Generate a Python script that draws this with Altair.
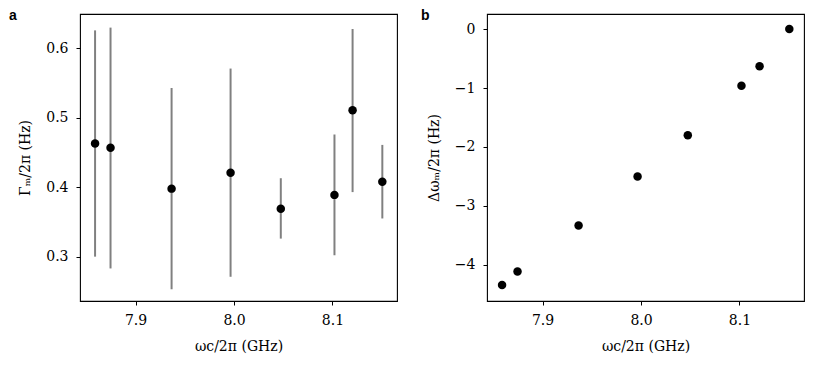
import altair as alt
import pandas as pd

# cavity frequency omega_c/2pi (GHz)
freq = [7.8589, 7.8746, 7.9366, 7.9965, 8.0475, 8.1020, 8.1204, 8.1506]
# panel a: mechanical linewidth Gamma_m/2pi (Hz) with error bar limits
gamma = [0.463, 0.457, 0.398, 0.421, 0.369, 0.389, 0.511, 0.408]
gamma_lo = [0.300, 0.283, 0.253, 0.271, 0.326, 0.302, 0.393, 0.355]
gamma_hi = [0.626, 0.630, 0.543, 0.571, 0.413, 0.476, 0.628, 0.461]
# panel b: frequency shift Delta omega_m/2pi (Hz)
shift = [-4.34, -4.11, -3.33, -2.50, -1.80, -0.96, -0.63, 0.0]

x_ticks = [7.9, 8.0, 8.1]
ya_ticks = [0.3, 0.4, 0.5, 0.6]
yb_ticks = [-4, -3, -2, -1, 0]
panel_labels = ["a", "b"]

df = pd.DataFrame({"freq": freq, "gamma": gamma, "lo": gamma_lo,
                   "hi": gamma_hi, "shift": shift})

X_DOMAIN = [7.8436, 8.1655]
W, H = 317, 287


def xenc():
    return alt.X("freq:Q",
                 scale=alt.Scale(domain=X_DOMAIN, nice=False, zero=False),
                 axis=alt.Axis(values=x_ticks, format=".1f",
                               title="ωc/2π (GHz)", titlePadding=12))


def panel_letter(txt, dx):
    return alt.Chart(pd.DataFrame({"label": [txt]})).mark_text(
        font="Liberation Sans", fontSize=14, fontWeight="bold",
        color="black", align="left", baseline="alphabetic",
    ).encode(text="label:N", x=alt.value(dx), y=alt.value(6))


base = alt.Chart(df)

ya_scale = alt.Scale(domain=[0.2361, 0.6496], nice=False, zero=False)
ya_axis = alt.Axis(values=ya_ticks, format=".1f", title="Γₘ/2π (Hz)",
                   titlePadding=13)
err = base.mark_rule(color="#808080", strokeWidth=2).encode(
    x=xenc(),
    y=alt.Y("lo:Q", scale=ya_scale, axis=ya_axis),
    y2="hi:Q",
)
pts_a = base.mark_circle(size=72, color="black", opacity=1).encode(
    x=xenc(),
    y=alt.Y("gamma:Q", scale=ya_scale, axis=ya_axis),
)
panel_a = alt.layer(err, pts_a, panel_letter(panel_labels[0], -71)).properties(
    width=W, height=H)

yb_scale = alt.Scale(domain=[-4.611, 0.2547], nice=False, zero=False)
pts_b = base.mark_circle(size=72, color="black", opacity=1).encode(
    x=xenc(),
    y=alt.Y("shift:Q", scale=yb_scale,
            axis=alt.Axis(values=yb_ticks, format="d", title="Δωₘ/2π (Hz)",
                          titlePadding=13)),
)
panel_b = alt.layer(pts_b, panel_letter(panel_labels[1], -66)).properties(
    width=W, height=H)

chart = alt.hconcat(panel_a, panel_b, spacing=22).properties(
    padding={"left": 0, "top": 0, "right": 0, "bottom": 0},
    background="white",
).configure_view(
    stroke="black", strokeWidth=1.1
).configure_axis(
    domain=False, grid=False, ticks=True, tickColor="black", tickSize=4,
    tickWidth=1, labelPadding=8, labelFont="DejaVu Serif", labelFontSize=14,
    labelColor="black", titleFont="DejaVu Serif", titleFontSize=14,
    titleFontWeight="normal", titleColor="black",
)

chart.save("out.html", embed_options={"renderer": "svg", "actions": False})
